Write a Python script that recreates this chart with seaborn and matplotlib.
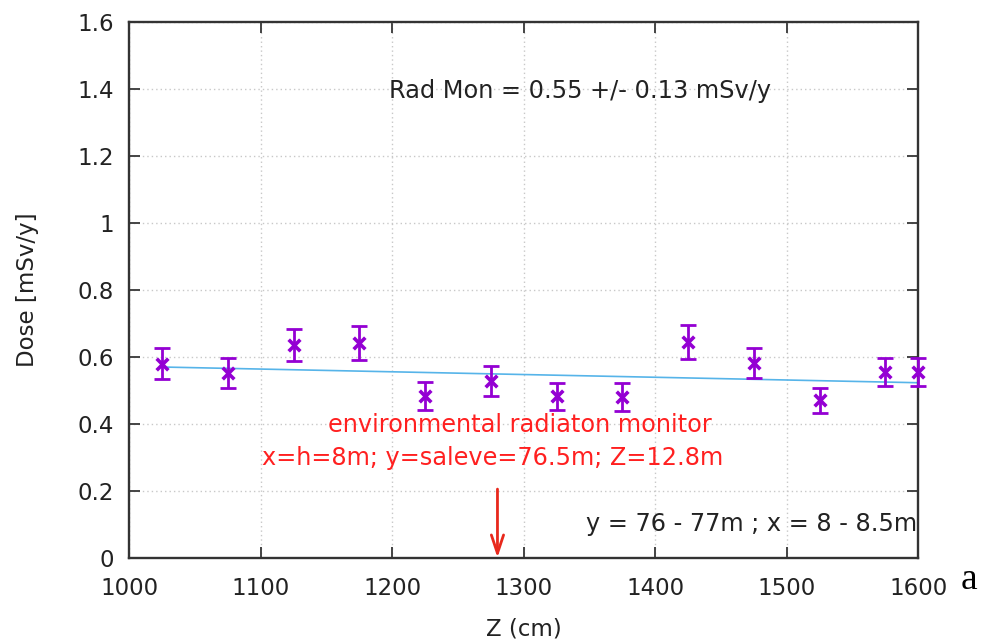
import numpy as np
import pandas as pd
import matplotlib
matplotlib.use("Agg")
import matplotlib.pyplot as plt
import seaborn as sns

# data
z_cm = [1025, 1075, 1125, 1175, 1225, 1275, 1325, 1375, 1425, 1475, 1525, 1575, 1600]
dose = [0.580, 0.553, 0.636, 0.642, 0.482, 0.527, 0.482, 0.481, 0.645, 0.582, 0.471, 0.556, 0.556]
dose_err = [0.047, 0.045, 0.047, 0.051, 0.042, 0.045, 0.040, 0.042, 0.050, 0.046, 0.037, 0.042, 0.042]
fit_z = [1025, 1600]
fit_dose = [0.570, 0.523]
x_ticks = [1000, 1100, 1200, 1300, 1400, 1500, 1600]
y_ticks = [0, 0.2, 0.4, 0.6, 0.8, 1.0, 1.2, 1.4, 1.6]
y_tick_labels = ["0", "0.2", "0.4", "0.6", "0.8", "1", "1.2", "1.4", "1.6"]
monitor_z = 1280

sns.set_theme(style="white")
plt.rcParams['font.family'] = ['DejaVu Sans']

df = pd.DataFrame({"Z": z_cm, "Dose": dose, "err": dose_err})
fit_df = pd.DataFrame({"Z": fit_z, "Dose": fit_dose})

fig = plt.figure(figsize=(9.86, 6.41), dpi=100)
ax = fig.add_axes([0.1311, 0.13, 0.8002, 0.8349])

purple = "#9400d3"
ax.errorbar(df["Z"], df["Dose"], yerr=df["err"], fmt="none", ecolor=purple,
            elinewidth=2.0, capsize=6, capthick=2.0, zorder=3, clip_on=False)
sns.scatterplot(data=df, x="Z", y="Dose", ax=ax, marker="x", color=purple,
                s=70, linewidth=2.6, zorder=4, clip_on=False, legend=False)
sns.lineplot(data=fit_df, x="Z", y="Dose", ax=ax, color="#56b4e9",
             linewidth=1.2, zorder=2, legend=False)

ax.set_xlim(1000, 1600)
ax.set_ylim(0, 1.6)
ax.set_xticks(x_ticks)
ax.set_xticklabels([str(t) for t in x_ticks])
ax.set_yticks(y_ticks)
ax.set_yticklabels(y_tick_labels)
ax.tick_params(axis="both", which="both", direction="in", length=8, width=1.4,
               color="#444444", labelsize=16.5, labelcolor="#222222",
               top=True, right=True, bottom=True, left=True)
ax.tick_params(axis="x", pad=14)
ax.tick_params(axis="y", pad=11)
ax.grid(True, linestyle=(0, (1, 2.2)), color="#c8c8c8", linewidth=1.0)
for sp in ax.spines.values():
    sp.set_color("#333333")
    sp.set_linewidth(1.7)
    sp.set_visible(True)

ax.set_xlabel("Z (cm)", fontsize=16.5, color="#222222")
ax.set_ylabel("Dose [mSv/y]", fontsize=16.5, color="#222222")
ax.xaxis.set_label_coords(0.5, -0.112)
ax.yaxis.set_label_coords(-0.114, 0.5)

ax.text(1343, 1.395, "Rad Mon = 0.55 +/- 0.13 mSv/y", fontsize=17.3,
        color="#222222", ha="center", va="center")
ax.text(1297, 0.396, "environmental radiaton monitor", fontsize=17.3,
        color="#ff2020", ha="center", va="center")
ax.text(1276, 0.298, "x=h=8m; y=saleve=76.5m; Z=12.8m", fontsize=17.3,
        color="#ff2020", ha="center", va="center")
ax.text(1599, 0.101, "y = 76 - 77m ; x = 8 - 8.5m", fontsize=17.3,
        color="#222222", ha="right", va="center")

ax.annotate("", xy=(monitor_z, 0.0), xytext=(monitor_z, 0.205),
            arrowprops=dict(arrowstyle="->,head_length=0.6,head_width=0.2",
                            color="#e8281c", lw=2.0,
                            mutation_scale=22, shrinkA=0, shrinkB=0))

fig.text(969 / 986, 1 - 580 / 641, "a", fontsize=27, family="Liberation Serif",
         color="black", ha="center", va="center")

fig.savefig("out.png", dpi=100)
